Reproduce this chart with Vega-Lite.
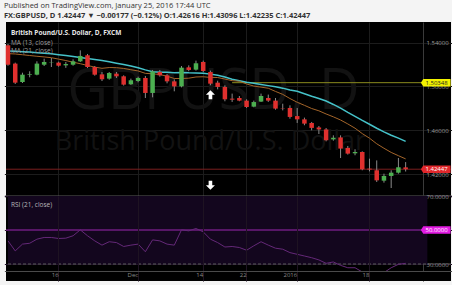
{
  "$schema": "https://vega.github.io/schema/vega-lite/v6.json",
  "background": "#f4f4f4",
  "padding": {"left": 3, "right": 4, "top": 2, "bottom": 4},
  "bounds": "flush",
  "spacing": 0,
  "title": {
    "text": "Published on TradingView.com, January 25, 2016 17:44 UTC",
    "subtitle": "FX:GBPUSD, D 1.42447 ▼ −0.00177 (−0.12%) O:1.42616 H:1.43096 L:1.42235 C:1.42447",
    "anchor": "start", "frame": "bounds", "dx": -1,
    "font": "Open Sans", "fontSize": 7.5, "fontWeight": "normal", "color": "#333333",
    "subtitleFont": "Open Sans", "subtitleFontSize": 7.5, "subtitleFontWeight": "bold", "subtitleColor": "#333333",
    "subtitlePadding": 2, "offset": 3
  },
  "config": {"view": {"stroke": null}, "font": "Open Sans"},
  "datasets": {
    "one": [{}],
    "prices": [
      {"date": "2015-11-05", "open": 1.5376, "high": 1.5388, "low": 1.5190, "close": 1.5199, "ma13": 1.5300, "ma21": 1.5325, "rsi": 43.6},
      {"date": "2015-11-06", "open": 1.5209, "high": 1.5218, "low": 1.5023, "close": 1.5035, "ma13": 1.5297, "ma21": 1.5322, "rsi": 37.7},
      {"date": "2015-11-09", "open": 1.5041, "high": 1.5126, "low": 1.5032, "close": 1.5108, "ma13": 1.5290, "ma21": 1.5318, "rsi": 41.7},
      {"date": "2015-11-10", "open": 1.5106, "high": 1.5139, "low": 1.5084, "close": 1.5112, "ma13": 1.5283, "ma21": 1.5314, "rsi": 42.2},
      {"date": "2015-11-11", "open": 1.5108, "high": 1.5230, "low": 1.5102, "close": 1.5209, "ma13": 1.5276, "ma21": 1.5309, "rsi": 44.6},
      {"date": "2015-11-12", "open": 1.5199, "high": 1.5254, "low": 1.5187, "close": 1.5224, "ma13": 1.5270, "ma21": 1.5304, "rsi": 45.6},
      {"date": "2015-11-13", "open": 1.5217, "high": 1.5260, "low": 1.5178, "close": 1.5220, "ma13": 1.5263, "ma21": 1.5298, "rsi": 45.6},
      {"date": "2015-11-16", "open": 1.5218, "high": 1.5227, "low": 1.5181, "close": 1.5190, "ma13": 1.5250, "ma21": 1.5290, "rsi": 45.0},
      {"date": "2015-11-17", "open": 1.5193, "high": 1.5224, "low": 1.5170, "close": 1.5205, "ma13": 1.5237, "ma21": 1.5282, "rsi": 45.2},
      {"date": "2015-11-18", "open": 1.5199, "high": 1.5248, "low": 1.5190, "close": 1.5230, "ma13": 1.5222, "ma21": 1.5273, "rsi": 46.6},
      {"date": "2015-11-19", "open": 1.5230, "high": 1.5330, "low": 1.5224, "close": 1.5279, "ma13": 1.5208, "ma21": 1.5264, "rsi": 50.1},
      {"date": "2015-11-20", "open": 1.5285, "high": 1.5297, "low": 1.5169, "close": 1.5178, "ma13": 1.5192, "ma21": 1.5255, "rsi": 46.6},
      {"date": "2015-11-23", "open": 1.5178, "high": 1.5187, "low": 1.5099, "close": 1.5108, "ma13": 1.5177, "ma21": 1.5246, "rsi": 43.6},
      {"date": "2015-11-24", "open": 1.5111, "high": 1.5132, "low": 1.5050, "close": 1.5066, "ma13": 1.5166, "ma21": 1.5237, "rsi": 41.1},
      {"date": "2015-11-25", "open": 1.5072, "high": 1.5132, "low": 1.5062, "close": 1.5123, "ma13": 1.5173, "ma21": 1.5225, "rsi": 43.1},
      {"date": "2015-11-26", "open": 1.5117, "high": 1.5132, "low": 1.5078, "close": 1.5093, "ma13": 1.5172, "ma21": 1.5213, "rsi": 42.6},
      {"date": "2015-11-27", "open": 1.5093, "high": 1.5102, "low": 1.5008, "close": 1.5017, "ma13": 1.5165, "ma21": 1.5200, "rsi": 40.3},
      {"date": "2015-11-30", "open": 1.5020, "high": 1.5072, "low": 1.5014, "close": 1.5057, "ma13": 1.5153, "ma21": 1.5188, "rsi": 41.1},
      {"date": "2015-12-01", "open": 1.5050, "high": 1.5090, "low": 1.5038, "close": 1.5078, "ma13": 1.5142, "ma21": 1.5172, "rsi": 41.7},
      {"date": "2015-12-02", "open": 1.5078, "high": 1.5096, "low": 1.4895, "close": 1.4941, "ma13": 1.5120, "ma21": 1.5152, "rsi": 37.2},
      {"date": "2015-12-03", "open": 1.4941, "high": 1.5151, "low": 1.4901, "close": 1.5138, "ma13": 1.5116, "ma21": 1.5134, "rsi": 44.2},
      {"date": "2015-12-04", "open": 1.5132, "high": 1.5151, "low": 1.5090, "close": 1.5102, "ma13": 1.5109, "ma21": 1.5129, "rsi": 43.6},
      {"date": "2015-12-07", "open": 1.5102, "high": 1.5114, "low": 1.5029, "close": 1.5047, "ma13": 1.5094, "ma21": 1.5130, "rsi": 41.7},
      {"date": "2015-12-08", "open": 1.5047, "high": 1.5065, "low": 1.4956, "close": 1.5001, "ma13": 1.5073, "ma21": 1.5125, "rsi": 41.1},
      {"date": "2015-12-09", "open": 1.5001, "high": 1.5187, "low": 1.4992, "close": 1.5172, "ma13": 1.5073, "ma21": 1.5128, "rsi": 50.1},
      {"date": "2015-12-10", "open": 1.5175, "high": 1.5193, "low": 1.5139, "close": 1.5151, "ma13": 1.5076, "ma21": 1.5125, "rsi": 49.5},
      {"date": "2015-12-11", "open": 1.5154, "high": 1.5236, "low": 1.5145, "close": 1.5212, "ma13": 1.5087, "ma21": 1.5124, "rsi": 50.9},
      {"date": "2015-12-14", "open": 1.5224, "high": 1.5236, "low": 1.5132, "close": 1.5142, "ma13": 1.5089, "ma21": 1.5121, "rsi": 48.9},
      {"date": "2015-12-15", "open": 1.5132, "high": 1.5145, "low": 1.5011, "close": 1.5026, "ma13": 1.5083, "ma21": 1.5113, "rsi": 44.6},
      {"date": "2015-12-16", "open": 1.5035, "high": 1.5053, "low": 1.4974, "close": 1.4996, "ma13": 1.5082, "ma21": 1.5103, "rsi": 42.6},
      {"date": "2015-12-17", "open": 1.4996, "high": 1.5011, "low": 1.4865, "close": 1.4883, "ma13": 1.5068, "ma21": 1.5086, "rsi": 40.0},
      {"date": "2015-12-18", "open": 1.4889, "high": 1.4935, "low": 1.4859, "close": 1.4880, "ma13": 1.5053, "ma21": 1.5067, "rsi": 40.3},
      {"date": "2015-12-21", "open": 1.4895, "high": 1.4913, "low": 1.4865, "close": 1.4871, "ma13": 1.5048, "ma21": 1.5053, "rsi": 39.7},
      {"date": "2015-12-22", "open": 1.4871, "high": 1.4883, "low": 1.4804, "close": 1.4813, "ma13": 1.5023, "ma21": 1.5039, "rsi": 38.1},
      {"date": "2015-12-23", "open": 1.4816, "high": 1.4871, "low": 1.4810, "close": 1.4858, "ma13": 1.5004, "ma21": 1.5029, "rsi": 40.7},
      {"date": "2015-12-24", "open": 1.4862, "high": 1.4935, "low": 1.4859, "close": 1.4913, "ma13": 1.4994, "ma21": 1.5019, "rsi": 43.1},
      {"date": "2015-12-28", "open": 1.4895, "high": 1.4926, "low": 1.4859, "close": 1.4871, "ma13": 1.4984, "ma21": 1.5008, "rsi": 41.1},
      {"date": "2015-12-29", "open": 1.4871, "high": 1.4895, "low": 1.4788, "close": 1.4798, "ma13": 1.4955, "ma21": 1.4998, "rsi": 39.3},
      {"date": "2015-12-30", "open": 1.4798, "high": 1.4843, "low": 1.4782, "close": 1.4795, "ma13": 1.4928, "ma21": 1.4985, "rsi": 38.7},
      {"date": "2015-12-31", "open": 1.4804, "high": 1.4828, "low": 1.4706, "close": 1.4722, "ma13": 1.4890, "ma21": 1.4968, "rsi": 36.7},
      {"date": "2016-01-04", "open": 1.4730, "high": 1.4804, "low": 1.4667, "close": 1.4700, "ma13": 1.4856, "ma21": 1.4957, "rsi": 35.7},
      {"date": "2016-01-05", "open": 1.4700, "high": 1.4716, "low": 1.4646, "close": 1.4661, "ma13": 1.4828, "ma21": 1.4934, "rsi": 34.7},
      {"date": "2016-01-06", "open": 1.4667, "high": 1.4676, "low": 1.4600, "close": 1.4622, "ma13": 1.4799, "ma21": 1.4911, "rsi": 33.7},
      {"date": "2016-01-07", "open": 1.4626, "high": 1.4639, "low": 1.4566, "close": 1.4608, "ma13": 1.4778, "ma21": 1.4890, "rsi": 32.4},
      {"date": "2016-01-08", "open": 1.4608, "high": 1.4621, "low": 1.4499, "close": 1.4509, "ma13": 1.4749, "ma21": 1.4867, "rsi": 30.4},
      {"date": "2016-01-11", "open": 1.4517, "high": 1.4554, "low": 1.4505, "close": 1.4532, "ma13": 1.4723, "ma21": 1.4836, "rsi": 31.2},
      {"date": "2016-01-12", "open": 1.4535, "high": 1.4554, "low": 1.4347, "close": 1.4433, "ma13": 1.4694, "ma21": 1.4802, "rsi": 29.2},
      {"date": "2016-01-13", "open": 1.4439, "high": 1.4457, "low": 1.4378, "close": 1.4387, "ma13": 1.4658, "ma21": 1.4763, "rsi": 27.8},
      {"date": "2016-01-14", "open": 1.4390, "high": 1.4427, "low": 1.4372, "close": 1.4402, "ma13": 1.4619, "ma21": 1.4728, "rsi": 27.8},
      {"date": "2016-01-15", "open": 1.4402, "high": 1.4408, "low": 1.4235, "close": 1.4244, "ma13": 1.4570, "ma21": 1.4690, "rsi": 25.3},
      {"date": "2016-01-18", "open": 1.4250, "high": 1.4341, "low": 1.4225, "close": 1.4242, "ma13": 1.4528, "ma21": 1.4655, "rsi": 24.9},
      {"date": "2016-01-19", "open": 1.4235, "high": 1.4325, "low": 1.4128, "close": 1.4143, "ma13": 1.4477, "ma21": 1.4619, "rsi": 23.3},
      {"date": "2016-01-20", "open": 1.4140, "high": 1.4204, "low": 1.4122, "close": 1.4183, "ma13": 1.4436, "ma21": 1.4586, "rsi": 24.9},
      {"date": "2016-01-21", "open": 1.4183, "high": 1.4235, "low": 1.4073, "close": 1.4213, "ma13": 1.4398, "ma21": 1.4555, "rsi": 27.8},
      {"date": "2016-01-22", "open": 1.4213, "high": 1.4347, "low": 1.4204, "close": 1.42624, "ma13": 1.4368, "ma21": 1.4529, "rsi": 29.8},
      {"date": "2016-01-25", "open": 1.42616, "high": 1.43096, "low": 1.42235, "close": 1.42447, "ma13": 1.4339, "ma21": 1.4499, "rsi": 30.4}
    ]
  },
  "vconcat": [
    {
      "width": 445,
      "height": 174,
      "view": {"fill": "#000000", "stroke": null},
      "data": {"name": "prices"},
      "layer": [
        {
          "data": {"name": "one"},
          "mark": {"type": "text", "fontSize": 56, "color": "#121212", "align": "center", "baseline": "middle", "dx": 3},
          "encoding": {
            "text": {"value": "GBPUSD, D"},
            "x": {"datum": "2015-12-15", "type": "ordinal"},
            "y": {"datum": 1.4950, "type": "quantitative"}
          }
        },
        {
          "data": {"name": "one"},
          "mark": {"type": "text", "fontSize": 27, "color": "#121212", "align": "center", "baseline": "middle", "dx": 0},
          "encoding": {
            "text": {"value": "British Pound/U.S. Dollar"},
            "x": {"datum": "2015-12-15", "type": "ordinal"},
            "y": {"datum": 1.4490, "type": "quantitative"}
          }
        },
        {
          "data": {"name": "one"},
          "mark": {"type": "rule", "color": "#7a1f1f", "strokeWidth": 1},
          "encoding": {"y": {"datum": 1.42447, "type": "quantitative"}}
        },
        {
          "data": {"name": "one"},
          "mark": {"type": "rule", "color": "#8c8c1e", "strokeWidth": 1},
          "encoding": {
            "x": {"datum": "2015-12-18", "type": "ordinal"},
            "x2": {"datum": "2016-02-02"},
            "y": {"datum": 1.50348, "type": "quantitative"}
          }
        },
        {
          "mark": {"type": "line", "color": "#45c2c9", "strokeWidth": 1.5},
          "encoding": {
            "x": {"field": "date", "type": "ordinal"},
            "y": {"field": "ma21", "type": "quantitative"}
          }
        },
        {
          "mark": {"type": "line", "color": "#a4652a", "strokeWidth": 1},
          "encoding": {
            "x": {"field": "date", "type": "ordinal"},
            "y": {"field": "ma13", "type": "quantitative"}
          }
        },
        {
          "mark": {"type": "rule", "color": "#8a8a8a", "strokeWidth": 1},
          "encoding": {
            "x": {"field": "date", "type": "ordinal"},
            "y": {"field": "low", "type": "quantitative"},
            "y2": {"field": "high"}
          }
        },
        {
          "mark": {"type": "bar", "size": 4.5},
          "encoding": {
            "x": {
              "field": "date", "type": "ordinal",
              "scale": {
                "domain": ["2015-11-05","2015-11-06","2015-11-09","2015-11-10","2015-11-11","2015-11-12","2015-11-13","2015-11-16","2015-11-17","2015-11-18","2015-11-19","2015-11-20","2015-11-23","2015-11-24","2015-11-25","2015-11-26","2015-11-27","2015-11-30","2015-12-01","2015-12-02","2015-12-03","2015-12-04","2015-12-07","2015-12-08","2015-12-09","2015-12-10","2015-12-11","2015-12-14","2015-12-15","2015-12-16","2015-12-17","2015-12-18","2015-12-21","2015-12-22","2015-12-23","2015-12-24","2015-12-28","2015-12-29","2015-12-30","2015-12-31","2016-01-04","2016-01-05","2016-01-06","2016-01-07","2016-01-08","2016-01-11","2016-01-12","2016-01-13","2016-01-14","2016-01-15","2016-01-18","2016-01-19","2016-01-20","2016-01-21","2016-01-22","2016-01-25","2016-01-26","2016-01-27","2016-01-28","2016-01-29","2016-02-01","2016-02-02"],
                "range": [-1.62, 446.64],
                "paddingInner": 0, "paddingOuter": 0
              },
              "axis": {
                "orient": "bottom", "title": null, "labels": false, "ticks": false,
                "domain": true, "domainColor": "#5c5c5c", "domainWidth": 2,
                "grid": true, "gridColor": "#1c1c1c",
                "values": ["2015-11-16","2015-12-01","2015-12-14","2015-12-22","2016-01-04","2016-01-18"]
              }
            },
            "y": {
              "field": "open", "type": "quantitative",
              "scale": {"domain": [1.4, 1.5589], "nice": false, "zero": false},
              "axis": {
                "orient": "right", "offset": -28, "title": null,
                "values": [1.42, 1.44, 1.46, 1.48, 1.5, 1.52, 1.54],
                "format": ".5f", "labelColor": "#9a9a9a", "labelFontSize": 6, "labelPadding": 3,
                "labelAlign": "left", "ticks": false,
                "domain": true, "domainColor": "#3a3a3a",
                "grid": true, "gridColor": "#1c1c1c"
              }
            },
            "y2": {"field": "close"},
            "color": {"condition": {"test": "datum.close >= datum.open", "value": "#4caf50"}, "value": "#e0302e"}
          }
        },
        {
          "data": {"name": "one"},
          "mark": {"type": "point", "shape": "M0,-1L1,0H0.4V1H-0.4V0H-1Z", "filled": true, "color": "#ffffff", "opacity": 1, "size": 81, "strokeWidth": 0},
          "encoding": {
            "x": {"datum": "2015-12-15", "type": "ordinal"},
            "y": {"datum": 1.4924, "type": "quantitative"}
          }
        },
        {
          "data": {"name": "one"},
          "mark": {"type": "point", "shape": "M0,1L1,0H0.4V-1H-0.4V0H-1Z", "filled": true, "color": "#ffffff", "opacity": 1, "size": 81, "strokeWidth": 0},
          "encoding": {
            "x": {"datum": "2015-12-15", "type": "ordinal"},
            "y": {"datum": 1.4098, "type": "quantitative"}
          }
        },
        {
          "data": {"name": "one"},
          "mark": {"type": "text", "fontSize": 6.5, "fontWeight": "bold", "color": "#e8e8e8", "align": "left", "baseline": "middle", "dx": 3},
          "encoding": {
            "text": {"value": "British Pound/U.S. Dollar, D, FXCM"},
            "x": {"datum": "2015-11-05", "type": "ordinal"},
            "y": {"datum": 1.54886, "type": "quantitative"}
          }
        },
        {
          "data": {"name": "one"},
          "mark": {"type": "text", "fontSize": 6.5, "color": "#9b9b9b", "align": "left", "baseline": "middle", "dx": 3},
          "encoding": {
            "text": {"value": "MA (13, close)"},
            "x": {"datum": "2015-11-05", "type": "ordinal"},
            "y": {"datum": 1.5400, "type": "quantitative"}
          }
        },
        {
          "data": {"name": "one"},
          "mark": {"type": "text", "fontSize": 6.5, "color": "#9b9b9b", "align": "left", "baseline": "middle", "dx": 3},
          "encoding": {
            "text": {"value": "MA (21, close)"},
            "x": {"datum": "2015-11-05", "type": "ordinal"},
            "y": {"datum": 1.5321, "type": "quantitative"}
          }
        },
        {
          "data": {"name": "one"},
          "mark": {"type": "point", "shape": "M-1.12,0L-0.95,-0.27H1V0.27H-0.95Z", "filled": true, "color": "#f2f200", "opacity": 1, "size": 784, "strokeWidth": 0, "xOffset": 2},
          "encoding": {
            "x": {"datum": "2016-01-29", "type": "ordinal"},
            "y": {"datum": 1.50348, "type": "quantitative"}
          }
        },
        {
          "data": {"name": "one"},
          "mark": {"type": "text", "fontSize": 6, "color": "#222222", "align": "center", "baseline": "middle", "dx": 2},
          "encoding": {
            "text": {"value": "1.50348"},
            "x": {"datum": "2016-01-29", "type": "ordinal"},
            "y": {"datum": 1.50348, "type": "quantitative"}
          }
        },
        {
          "data": {"name": "one"},
          "mark": {"type": "point", "shape": "M-1.12,0L-0.95,-0.27H1V0.27H-0.95Z", "filled": true, "color": "#e0272b", "opacity": 1, "size": 784, "strokeWidth": 0, "xOffset": 2},
          "encoding": {
            "x": {"datum": "2016-01-29", "type": "ordinal"},
            "y": {"datum": 1.42447, "type": "quantitative"}
          }
        },
        {
          "data": {"name": "one"},
          "mark": {"type": "text", "fontSize": 6, "color": "#ffffff", "align": "center", "baseline": "middle", "dx": 2},
          "encoding": {
            "text": {"value": "1.42447"},
            "x": {"datum": "2016-01-29", "type": "ordinal"},
            "y": {"datum": 1.42447, "type": "quantitative"}
          }
        }
      ]
    },
    {
      "width": 445,
      "height": 85,
      "view": {"fill": "#000000", "stroke": null},
      "data": {"name": "prices"},
      "layer": [
        {
          "data": {"name": "one"},
          "mark": {"type": "rect", "color": "#13061e", "clip": true},
          "encoding": {
            "x": {"datum": "2015-11-05", "type": "ordinal"},
            "x2": {"datum": "2016-01-28"},
            "y": {"datum": 70, "type": "quantitative"},
            "y2": {"datum": 30}
          }
        },
        {
          "data": {"name": "one"},
          "mark": {"type": "rule", "color": "#5a5a5a", "strokeWidth": 1, "strokeDash": [3, 2]},
          "encoding": {"y": {"datum": 30, "type": "quantitative"}}
        },
        {
          "data": {"name": "one"},
          "mark": {"type": "rule", "color": "#9c27b0", "strokeWidth": 1.2},
          "encoding": {"y": {"datum": 50, "type": "quantitative"}}
        },
        {
          "mark": {"type": "line", "color": "#642878", "strokeWidth": 1},
          "encoding": {
            "x": {"field": "date", "type": "ordinal"},
            "y": {"field": "rsi", "type": "quantitative"}
          }
        },
        {
          "data": {"name": "one"},
          "mark": {"type": "rect", "color": "#000000"},
          "encoding": {
            "y": {"datum": 25.88, "type": "quantitative"},
            "y2": {"datum": 20}
          }
        },
        {
          "data": {"name": "one"},
          "mark": {"type": "text", "fontSize": 6.5, "color": "#b8b8b8", "align": "left", "baseline": "middle", "dx": 3},
          "encoding": {
            "text": {"value": "RSI (21, close)"},
            "x": {"datum": "2015-11-05", "type": "ordinal"},
            "y": {"datum": 64.8, "type": "quantitative"}
          }
        },
        {
          "data": {"name": "one"},
          "mark": {"type": "point", "shape": "M-1.12,0L-0.95,-0.27H1V0.27H-0.95Z", "filled": true, "color": "#e21be2", "opacity": 1, "size": 784, "strokeWidth": 0, "xOffset": 2},
          "encoding": {
            "x": {
              "datum": "2016-01-29", "type": "ordinal",
              "scale": {
                "domain": ["2015-11-05","2015-11-06","2015-11-09","2015-11-10","2015-11-11","2015-11-12","2015-11-13","2015-11-16","2015-11-17","2015-11-18","2015-11-19","2015-11-20","2015-11-23","2015-11-24","2015-11-25","2015-11-26","2015-11-27","2015-11-30","2015-12-01","2015-12-02","2015-12-03","2015-12-04","2015-12-07","2015-12-08","2015-12-09","2015-12-10","2015-12-11","2015-12-14","2015-12-15","2015-12-16","2015-12-17","2015-12-18","2015-12-21","2015-12-22","2015-12-23","2015-12-24","2015-12-28","2015-12-29","2015-12-30","2015-12-31","2016-01-04","2016-01-05","2016-01-06","2016-01-07","2016-01-08","2016-01-11","2016-01-12","2016-01-13","2016-01-14","2016-01-15","2016-01-18","2016-01-19","2016-01-20","2016-01-21","2016-01-22","2016-01-25","2016-01-26","2016-01-27","2016-01-28","2016-01-29","2016-02-01","2016-02-02"],
                "range": [-1.62, 446.64],
                "paddingInner": 0, "paddingOuter": 0
              },
              "axis": {
                "orient": "bottom", "offset": -10, "title": null, "zindex": 1,
                "labelColor": "#8a8a8a", "labelFontSize": 6, "labelPadding": 3, "labelAngle": 0,
                "ticks": false, "domain": true, "domainColor": "#4a4a4a",
                "grid": true, "gridColor": "#1e1322",
                "values": ["2015-11-16","2015-12-01","2015-12-14","2015-12-22","2016-01-04","2016-01-18"],
                "labelExpr": "datum.value == '2015-11-16' ? '16' : datum.value == '2015-12-01' ? 'Dec' : datum.value == '2015-12-14' ? '14' : datum.value == '2015-12-22' ? '22' : datum.value == '2016-01-04' ? '2016' : '18'"
              }
            },
            "y": {
              "datum": 50, "type": "quantitative",
              "scale": {"domain": [20, 70], "nice": false, "zero": false},
              "axis": {
                "orient": "right", "offset": -28, "title": null,
                "values": [30, 40, 50, 60, 70],
                "format": ".4f", "labelColor": "#9a9a9a", "labelFontSize": 6, "labelPadding": 3,
                "labelAlign": "left", "ticks": false,
                "domain": true, "domainColor": "#3a3a3a",
                "grid": true, "gridColor": "#22142a"
              }
            }
          }
        },
        {
          "data": {"name": "one"},
          "mark": {"type": "text", "fontSize": 6, "color": "#ffffff", "align": "center", "baseline": "middle", "dx": 2},
          "encoding": {
            "text": {"value": "50.0000"},
            "x": {"datum": "2016-01-29", "type": "ordinal"},
            "y": {"datum": 50, "type": "quantitative"}
          }
        }
      ]
    }
  ]
}
